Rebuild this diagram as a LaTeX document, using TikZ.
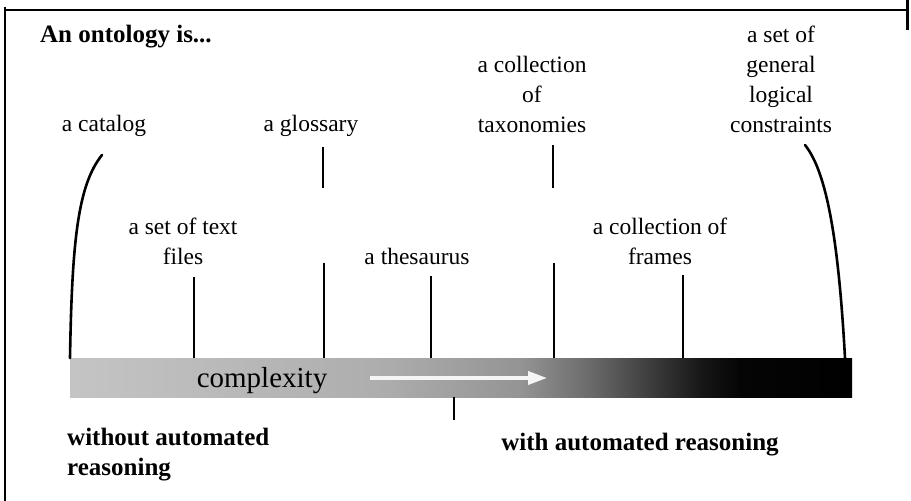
\documentclass[tikz,border=0pt]{standalone}
\usepackage{fontspec}
\setmainfont{Liberation Serif}
\usetikzlibrary{arrows.meta}
\pgfdeclarehorizontalshading{cx}{100bp}{gray(0bp)=(0.77); gray(25bp)=(0.77); gray(44.8bp)=(0.68); gray(53.8bp)=(0.58); gray(58.2bp)=(0.42); gray(62.1bp)=(0.24); gray(65.3bp)=(0.09); gray(67.8bp)=(0.02); gray(75bp)=(0); gray(100bp)=(0)}
\definecolor{arrwhite}{gray}{0.96}
\begin{document}
\begin{tikzpicture}[x=1pt,y=-1pt,
  lbl/.style={font=\fontsize{23.5}{30}\selectfont, align=center, inner sep=0pt, anchor=base},
  bld/.style={font=\bfseries\fontsize{25}{30}\selectfont, inner sep=0pt, anchor=base},
  tick/.style={line width=2.2pt},
  brace/.style={line width=2.6pt, line cap=round},
  frameline/.style={line width=2pt}]
\useasboundingbox (0,0) rectangle (911,501);
% frame
\draw[frameline] (5,7) -- (5,501);
\draw[frameline] (4,10) -- (907,10);
\draw[line width=3pt] (907,0) -- (907,30);
% title
\node[bld, anchor=base west] (title) at (40,42) {An ontology is...};
% bar
\node[shade, shading=cx, minimum width=782pt, minimum height=39pt, inner sep=0pt, anchor=north west] (bar) at (70,358) {};
\node[font=\fontsize{29}{34}\selectfont, inner sep=0pt, anchor=base] (cx) at (262,387) {complexity};
\coordinate (arrS) at (370,378);
\coordinate (arrE) at (547,378);
\draw[arrwhite, line width=3.5pt, -{Triangle[length=19pt,width=13pt]}] (arrS) -- (arrE);
% labels (multi-line nodes: base = baseline of last line)
\node[lbl] (cat) at (104,131) {a catalog};
\node[lbl] (glo) at (311,131) {a glossary};
\node[lbl] (tax) at (532,132) {a collection\\of\\taxonomies};
\node[lbl] (con) at (781,132) {a set of\\general\\logical\\constraints};
\node[lbl] (txt) at (183,264) {a set of text\\files};
\node[lbl] (the) at (417,264) {a thesaurus};
\node[lbl] (fra) at (660,264) {a collection of\\frames};
\node[bld, align=left, anchor=base west] (wo) at (67,475) {without automated\\reasoning};
\node[bld] (wi) at (640,450) {with automated reasoning};
% connector start points
\coordinate (catT) at (102,155);
\coordinate (txtT) at (194,277);
\coordinate (gloT) at (323,147);
\coordinate (gloM) at (323,188);
\coordinate (gloL) at (324,263);
\coordinate (theT) at (431,276);
\coordinate (taxT) at (553,145);
\coordinate (taxM) at (553,188);
\coordinate (taxL) at (554,263);
\coordinate (fraT) at (683,275);
\coordinate (conT) at (805,145);
\coordinate (midB) at (454,420);
% connectors
\draw[brace] (catT) .. controls (78,185) and (72,240) .. (bar.north west);
\draw[brace] (conT) .. controls (825,170) and (838,230) .. (bar.north east -| 845,0);
\draw[tick] (txtT) -- (txtT |- bar.north);
\draw[tick] (gloT) -- (gloM);
\draw[tick] (gloL) -- (gloL |- bar.north);
\draw[tick] (theT) -- (theT |- bar.north);
\draw[tick] (taxT) -- (taxM);
\draw[tick] (taxL) -- (taxL |- bar.north);
\draw[tick] (fraT) -- (fraT |- bar.north);
\draw[tick] (midB |- bar.south) -- (midB);
\end{tikzpicture}
\end{document}
